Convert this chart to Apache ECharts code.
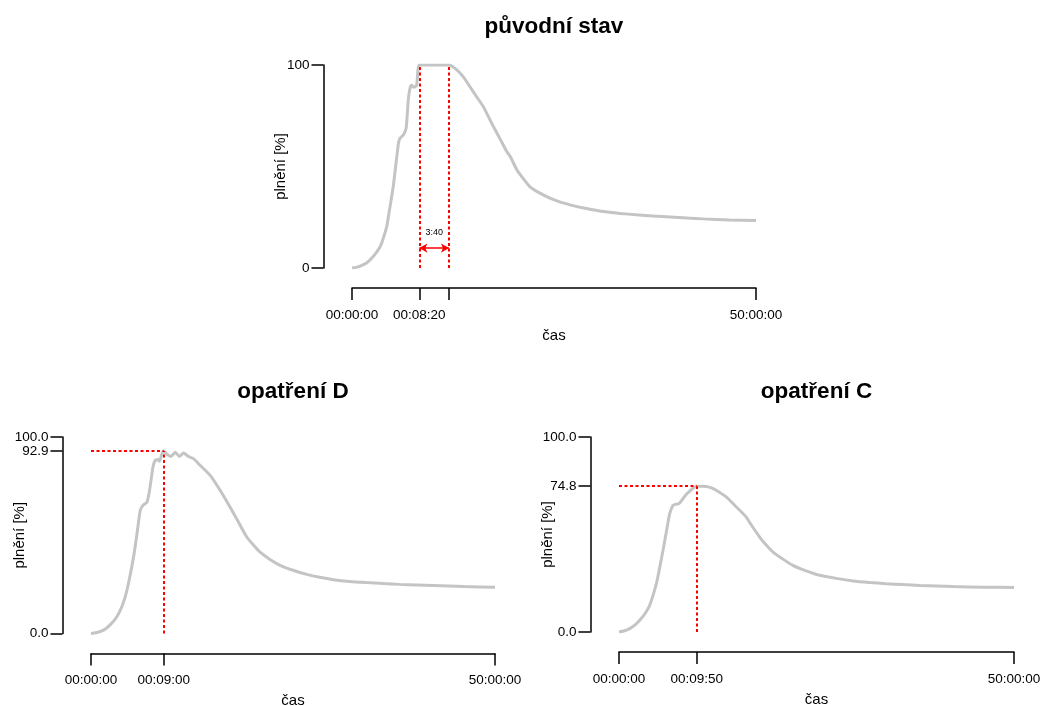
<!DOCTYPE html>
<html>
<head>
<meta charset="utf-8">
<script src="https://cdn.jsdelivr.net/npm/echarts@6/dist/echarts.min.js"></script>
<style>
html, body { margin: 0; padding: 0; background: #fff; }
#chart { width: 1055px; height: 706px; }
</style>
</head>
<body>
<div id="chart"></div>
<script>
// čas v minutách, plnění v %
var topTime = [0, 0.5, 1.0, 1.8, 2.6, 3.5, 3.9, 4.3, 4.7, 5.1, 5.4, 5.75, 5.95, 6.35, 6.7, 6.97, 7.18, 7.38, 7.67, 8.0,
    8.13, 8.33, 12.0, 12.9, 13.8, 14.6, 15.4, 16.25, 17.5, 18.4, 19.15, 19.6, 20.4, 21.2, 22.0, 23.2, 24.5, 25.7, 27.0, 29.0,
    31.1, 33.2, 35.2, 37.3, 39.4, 41.5, 43.5, 46.7, 50];
var topFill = [0, 0.3, 0.9, 2.5, 5.5, 10.6, 15, 20.5, 30, 40, 50, 61.5, 64, 65.5, 69, 83, 88.5, 90, 89, 90,
    96, 100, 100, 97.8, 94, 89.3, 84.5, 79.5, 69.7, 63, 57.4, 54.8, 48.4, 44, 40.1, 37, 34.4, 32.6, 31.1, 29.3,
    27.8, 26.9, 26.2, 25.6, 25.1, 24.6, 24.2, 23.7, 23.4];

var dTime = [0, 0.6, 1.56, 2.4, 3.2, 3.9, 4.45, 5.27, 5.7, 6.1, 6.43, 6.93, 7.25, 7.67, 7.95, 8.24, 8.48, 8.78, 9.0, 9.4,
    9.89, 10.43, 10.96, 11.45, 12.07, 12.69, 13.5, 14.75, 15.98, 17.2, 18.25, 19.28, 20.1, 20.9, 22.1, 23.4, 25.0, 26.7, 28.3, 30.0,
    32.0, 34.1, 36.2, 38.2, 40.3, 42.4, 46.2, 50];
var dFill = [0, 0.4, 1.7, 4.5, 8.5, 14.5, 22, 39, 51, 62.7, 65.2, 66.9, 72.9, 84.7, 88.1, 88.5, 87.7, 91.5, 92.9, 91.2,
    90.1, 92.2, 90.1, 91.8, 90.1, 89, 85.6, 80.5, 72.9, 64.4, 56.7, 49.1, 45, 41.5, 37.8, 34.7, 32.2, 30.1, 28.6, 27.4,
    26.5, 25.9, 25.4, 25.0, 24.7, 24.4, 23.9, 23.5];

var cTime = [0, 0.6, 1.35, 2.0, 2.62, 3.3, 3.89, 4.73, 5.15, 5.57, 6.0, 6.42, 6.84, 7.2, 7.6, 8.1, 8.5, 8.95, 9.4, 9.83,
    10.5, 11.06, 11.7, 12.3, 13.6, 14.86, 16.1, 16.5, 17.8, 18.6, 19.5, 20.7, 22.0, 23.6, 25.4, 27.5, 29.6, 31.7, 33.8, 36.0,
    38.1, 40.2, 42.3, 46.2, 50];
var cFill = [0, 0.5, 1.7, 3.5, 6.0, 9.5, 13.7, 24.8, 33, 41.9, 51.5, 60.7, 65, 65.5, 65.8, 68.4, 70.5, 72.3, 73.8, 74.8,
    74.8, 74.6, 73.9, 72.7, 69.2, 64.1, 59, 56.4, 48.7, 44.7, 41, 37.5, 34.2, 31.5, 29.1, 27.5, 26.2, 25.4, 24.8, 24.3,
    23.9, 23.6, 23.3, 23.0, 22.8];

// popisky os
var xTicksTop = [0, 8 + 20 / 60, 12, 50];
var xLabelsTop = ['00:00:00', '00:08:20', '', '50:00:00'];
var xTicksD = [0, 9, 50];
var xLabelsD = ['00:00:00', '00:09:00', '50:00:00'];
var xTicksC = [0, 9 + 50 / 60, 50];
var xLabelsC = ['00:00:00', '00:09:50', '50:00:00'];

var yTicksTop = [0, 100];
var yLabelsTop = ['0', '100'];
var yTicksD = [0, 92.9, 100];
var yLabelsD = ['0.0', '92.9', '100.0'];
var yTicksC = [0, 74.8, 100];
var yLabelsC = ['0.0', '74.8', '100.0'];

// značky
var fullFrom = 8 + 20 / 60, fullTo = 12, fullText = '3:40', arrowLevel = 9.8;
var peakTimeD = 9, peakD = 92.9;
var peakTimeC = 9 + 50 / 60, peakC = 74.8;

var titles = ['původní stav', 'opatření D', 'opatření C'];

var FONT = '"Liberation Sans", Arial, sans-serif';

function pairs(t, v) {
    return t.map(function (x, i) { return [x, v[i]]; });
}
function withLabel(ticks, labels) {
    return ticks.filter(function (x, i) { return labels[i] !== ''; });
}
function fmt(ticks, labels) {
    return function (val) {
        for (var i = 0; i < ticks.length; i++) {
            if (Math.abs(ticks[i] - val) < 1e-6) return labels[i];
        }
        return '';
    };
}

function xAxis(idx, ticks, labels) {
    return {
        gridIndex: idx, type: 'value', min: 0, max: 50, position: 'bottom', offset: 20,
        name: 'čas', nameLocation: 'middle', nameGap: 40, nameMoveOverlap: false,
        nameTextStyle: { fontSize: 15, color: '#000', fontFamily: FONT },
        axisLine: { show: true, onZero: false, lineStyle: { color: '#000', width: 1.5 } },
        axisTick: { show: true, length: 12, customValues: ticks, lineStyle: { color: '#000', width: 1.5 } },
        axisLabel: {
            customValues: withLabel(ticks, labels), formatter: fmt(ticks, labels),
            margin: 20, fontSize: 13.5, color: '#000', fontFamily: FONT,
            showMinLabel: true, showMaxLabel: true, hideOverlap: false
        },
        splitLine: { show: false }
    };
}

function yAxis(idx, ticks, labels) {
    return {
        gridIndex: idx, type: 'value', min: 0, max: 100, position: 'left', offset: 28.5,
        name: 'plnění [%]', nameLocation: 'middle', nameRotate: 90, nameGap: 35, nameMoveOverlap: false,
        nameTextStyle: { fontSize: 15, color: '#000', fontFamily: FONT },
        axisLine: { show: true, onZero: false, lineStyle: { color: '#000', width: 1.5 } },
        axisTick: { show: true, length: 12, customValues: ticks, lineStyle: { color: '#000', width: 1.5 } },
        axisLabel: {
            customValues: ticks, formatter: fmt(ticks, labels),
            margin: 14, fontSize: 13.5, color: '#000', fontFamily: FONT,
            showMinLabel: true, showMaxLabel: true, hideOverlap: false
        },
        splitLine: { show: false }
    };
}

var dotted = { color: '#ff0000', type: [3, 2.5], width: 2 };

function curve(idx, t, v, marks) {
    return {
        type: 'line', xAxisIndex: idx, yAxisIndex: idx,
        data: pairs(t, v), showSymbol: false, symbol: 'none', smooth: 0.2,
        lineStyle: { color: '#c4c4c4', width: 3 },
        z: 2,
        markLine: {
            silent: true, symbol: 'none', animation: false,
            label: { show: false },
            lineStyle: dotted,
            data: marks
        }
    };
}

var arrowLabel = { show: true, formatter: fullText, position: 'middle', distance: 11, fontSize: 9, color: '#000', fontFamily: FONT };
var arrowLine = { color: '#ff0000', type: 'solid', width: 1.5 };

var grids = [
    { left: 352, top: 65, width: 404, height: 203 },
    { left: 91, top: 437, width: 404, height: 196.5 },
    { left: 619, top: 437, width: 395, height: 195 }
];

var myChart = echarts.init(document.getElementById('chart'));

var option = {
    animation: false,
    backgroundColor: '#fff',
    title: grids.map(function (g, i) {
        return {
            text: titles[i], left: g.left + g.width / 2, top: i === 0 ? 15 : 380,
            textAlign: 'center', padding: 0,
            textStyle: { fontSize: 22.5, fontWeight: 'bold', color: '#000', fontFamily: FONT }
        };
    }),
    grid: grids.map(function (g) {
        return { left: g.left, top: g.top, width: g.width, height: g.height, outerBoundsMode: 'none' };
    }),
    xAxis: [xAxis(0, xTicksTop, xLabelsTop), xAxis(1, xTicksD, xLabelsD), xAxis(2, xTicksC, xLabelsC)],
    yAxis: [yAxis(0, yTicksTop, yLabelsTop), yAxis(1, yTicksD, yLabelsD), yAxis(2, yTicksC, yLabelsC)],
    series: [
        curve(0, topTime, topFill, [
            [{ coord: [fullFrom, 0] }, { coord: [fullFrom, 100] }],
            [{ coord: [fullTo, 0] }, { coord: [fullTo, 100] }],
            [
                { coord: [fullFrom, arrowLevel], symbol: 'arrow', symbolSize: [7, 8], lineStyle: arrowLine, label: arrowLabel },
                { coord: [fullTo, arrowLevel], symbol: 'arrow', symbolSize: [7, 8], lineStyle: arrowLine, label: arrowLabel }
            ]
        ]),
        curve(1, dTime, dFill, [
            [{ coord: [0, peakD] }, { coord: [peakTimeD, peakD] }],
            [{ coord: [peakTimeD, 0] }, { coord: [peakTimeD, peakD] }]
        ]),
        curve(2, cTime, cFill, [
            [{ coord: [0, peakC] }, { coord: [peakTimeC, peakC] }],
            [{ coord: [peakTimeC, 0] }, { coord: [peakTimeC, peakC] }]
        ])
    ]
};

myChart.setOption(option);
</script>
</body>
</html>
